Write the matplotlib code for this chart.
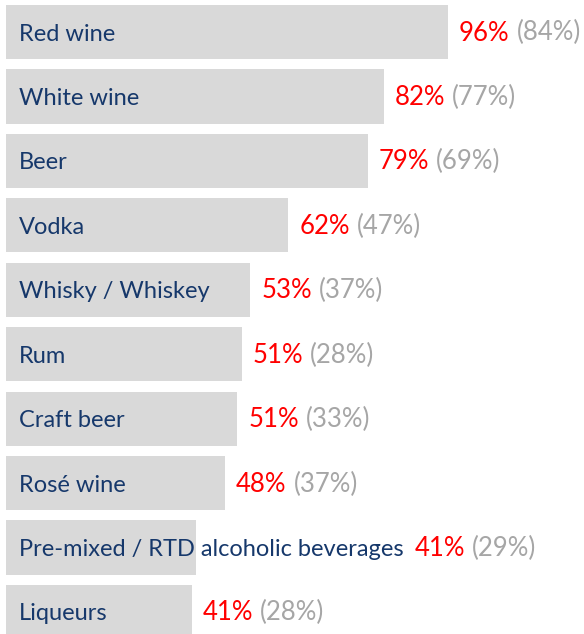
import matplotlib
matplotlib.use("Agg")
import matplotlib.pyplot as plt

# Beverage categories, top to bottom
categories = [
    "Red wine",
    "White wine",
    "Beer",
    "Vodka",
    "Whisky / Whiskey",
    "Rum",
    "Craft beer",
    "Rosé wine",
    "Pre-mixed / RTD alcoholic beverages",
    "Liqueurs",
]
# bar lengths (%)
current_share = [96.1, 82.1, 78.6, 61.4, 53.1, 51.2, 50.3, 47.6, 41.2, 40.4]
# printed labels
current_label = [96, 82, 79, 62, 53, 51, 51, 48, 41, 41]
previous_label = [84, 77, 69, 47, 37, 28, 33, 37, 29, 28]

BAR_COLOR = "#d9d9d9"
NAVY = "#16386b"
RED = "#ff0000"
GRAY = "#a6a6a6"
FONT = "Lato"

W, H, DPI = 584, 634, 100
PX_PER_PCT = 4.6
LEFT_PX = 6
pitch = 64.44  # row spacing in pixels

fig = plt.figure(figsize=(W / DPI, H / DPI), dpi=DPI)
ax = fig.add_axes([0, 0, 1, 1])
ax.set_xlim(-LEFT_PX / PX_PER_PCT, (W - LEFT_PX) / PX_PER_PCT)
ax.set_ylim(9 + (H - 612) / pitch, -32 / pitch)
ax.axis("off")

ypos = list(range(len(categories)))
ax.barh(ypos, current_share, height=0.84, left=0, color=BAR_COLOR, zorder=1)

name_dy = 8.5 / pitch
pct_dy = 8.5 / pitch

name_texts = []
for y, name in zip(ypos, categories):
    t = ax.text(13 / PX_PER_PCT, y + name_dy, name, color=NAVY, fontsize=17,
                family=FONT, va="baseline", ha="left", zorder=2)
    name_texts.append(t)

fig.canvas.draw()
renderer = fig.canvas.get_renderer()
inv = ax.transData.inverted()

for y, share, cur, prev, t in zip(ypos, current_share, current_label,
                                  previous_label, name_texts):
    bar_end_px = ax.transData.transform((share, y))[0]
    name_end_px = t.get_window_extent(renderer).x1
    start_px = max(bar_end_px, name_end_px) + 11
    x0 = inv.transform((start_px, 0))[0]
    rt = ax.text(x0, y + pct_dy, f"{cur}%", color=RED, fontsize=18.5,
                 family=FONT, va="baseline", ha="left")
    red_end = rt.get_window_extent(renderer).x1
    x1 = inv.transform((red_end + 7, 0))[0]
    ax.text(x1, y + pct_dy, f"({prev}%)", color=GRAY, fontsize=18.5,
            family=FONT, va="baseline", ha="left")

fig.savefig("out.png", dpi=DPI)
